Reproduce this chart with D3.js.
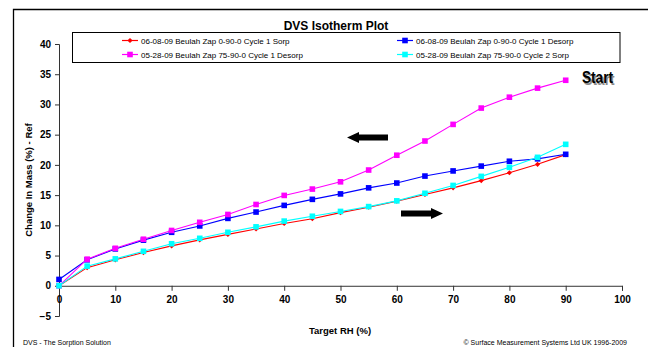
<!DOCTYPE html>
<html>
<head>
<meta charset="utf-8">
<script src="https://cdn.jsdelivr.net/npm/d3@7"></script>
<style>
  html, body { margin: 0; padding: 0; background: #fff; }
  svg { display: block; }
  text { font-family: "Liberation Sans", Arial, sans-serif; }
</style>
</head>
<body>
<svg id="chart" width="648" height="347"></svg>
<script>
// Target RH steps (%)
const rh = [0, 5, 10, 15, 20, 25, 30, 35, 40, 45, 50, 55, 60, 65, 70, 75, 80, 85, 90];

// Change in mass (%) for each run
const sorpCycle1 = [0, 3.0, 4.3, 5.5, 6.6, 7.6, 8.5, 9.4, 10.3, 11.1, 12.1, 13.0, 14.0, 15.1, 16.2, 17.4, 18.7, 20.1, 21.7];
const desorpCycle1 = [1.05, 4.3, 6.1, 7.55, 8.85, 9.9, 11.15, 12.2, 13.3, 14.3, 15.2, 16.2, 17.0, 18.15, 19.0, 19.8, 20.6, 21.0, 21.75];
const desorp7590Cycle1 = [0, 4.4, 6.2, 7.7, 9.15, 10.5, 11.8, 13.45, 14.95, 16.0, 17.2, 19.15, 21.6, 23.95, 26.7, 29.4, 31.2, 32.7, 34.0];
const sorp7590Cycle2 = [0, 3.25, 4.45, 5.7, 6.95, 7.85, 8.85, 9.75, 10.7, 11.5, 12.3, 13.1, 14.05, 15.3, 16.6, 18.1, 19.6, 21.25, 23.4];

const seriesNames = [
  "06-08-09 Beulah Zap 0-90-0 Cycle 1 Sorp",
  "06-08-09 Beulah Zap 0-90-0 Cycle 1 Desorp",
  "05-28-09 Beulah Zap 75-90-0 Cycle 1 Desorp",
  "05-28-09 Beulah Zap 75-90-0 Cycle 2 Sorp"
];
const seriesValues = [sorpCycle1, desorpCycle1, desorp7590Cycle1, sorp7590Cycle2];
const seriesColors = ["#ff0000", "#0000ff", "#ff00ff", "#00ffff"];
const seriesMarkers = ["diamond", "square", "square", "square"];

const xTicks = [0, 10, 20, 30, 40, 50, 60, 70, 80, 90, 100];
const yTicks = [-5, 0, 5, 10, 15, 20, 25, 30, 35, 40];

const svg = d3.select("#chart");

// outer frame
svg.append("path")
  .attr("d", "M13.5,352 L13.5,9.5 L652,9.5")
  .attr("fill", "none").attr("stroke", "#000").attr("stroke-width", 1.3);

const x = d3.scaleLinear().domain([0, 100]).range([59, 622]);
const y = d3.scaleLinear().domain([-5, 40]).range([316, 44]);

// title
svg.append("text")
  .attr("x", 336).attr("y", 30)
  .attr("text-anchor", "middle")
  .attr("font-size", 12).attr("font-weight", "bold")
  .text("DVS Isotherm Plot");

// axes
const yAxis = d3.axisLeft(y).tickValues(yTicks).tickSize(4).tickPadding(4);
const gy = svg.append("g").attr("transform", `translate(${x(0)},0)`).call(yAxis);

const xAxis = d3.axisBottom(x).tickValues(xTicks).tickSize(5).tickPadding(5);
const gx = svg.append("g").attr("transform", `translate(0,${y(0)})`).call(xAxis);

[gx, gy].forEach(g => {
  g.select(".domain").attr("stroke", "#333").attr("stroke-width", 1);
  g.selectAll(".tick line").attr("stroke", "#333");
  g.selectAll(".tick text")
    .attr("font-family", "'Liberation Sans', Arial, sans-serif")
    .attr("font-size", 10).attr("font-weight", "bold").attr("fill", "#000");
});

// axis titles
svg.append("text")
  .attr("x", 340).attr("y", 334)
  .attr("text-anchor", "middle")
  .attr("font-size", 9.5).attr("font-weight", "bold")
  .text("Target RH (%)");

svg.append("text")
  .attr("transform", "translate(32,180) rotate(-90)")
  .attr("text-anchor", "middle")
  .attr("font-size", 9.5).attr("font-weight", "bold")
  .text("Change In Mass (%) - Ref");

// marker drawing helper
function drawMarker(g, type, cx, cy, color) {
  if (type === "diamond") {
    const s = 2.6;
    g.append("path")
      .attr("d", `M${cx},${cy - s} L${cx + s},${cy} L${cx},${cy + s} L${cx - s},${cy} Z`)
      .attr("fill", color);
  } else {
    const s = 2.8;
    g.append("rect")
      .attr("x", cx - s).attr("y", cy - s)
      .attr("width", 2 * s).attr("height", 2 * s)
      .attr("fill", color);
  }
}

// series lines and markers
const line = d3.line().x(d => x(d[0])).y(d => y(d[1]));
seriesValues.forEach((vals, i) => {
  const pts = rh.map((r, j) => [r, vals[j]]);
  const g = svg.append("g");
  g.append("path")
    .attr("d", line(pts))
    .attr("fill", "none")
    .attr("stroke", seriesColors[i])
    .attr("stroke-width", 1.1);
  pts.forEach(p => drawMarker(g, seriesMarkers[i], x(p[0]), y(p[1]), seriesColors[i]));
});

// legend
const legend = svg.append("g");
legend.append("rect")
  .attr("x", 72.5).attr("y", 32.5).attr("width", 547.5).attr("height", 30)
  .attr("fill", "#fff").attr("stroke", "#000").attr("stroke-width", 1);
const legendPos = [[122, 40.5], [397, 40.5], [122, 54.5], [397, 54.5]];
seriesNames.forEach((name, i) => {
  const [lx, ly] = legendPos[i];
  legend.append("line")
    .attr("x1", lx).attr("x2", lx + 16).attr("y1", ly).attr("y2", ly)
    .attr("stroke", seriesColors[i]).attr("stroke-width", 1.2);
  drawMarker(legend, seriesMarkers[i], lx + 8, ly, seriesColors[i]);
  legend.append("text")
    .attr("x", lx + 19).attr("y", ly + 3)
    .attr("font-size", 8)
    .text(name);
});

// direction arrows
function blockArrow(xTail, xTip, cy) {
  const dir = Math.sign(xTip - xTail);
  const headLen = 12, bodyH = 3, headH = 5.5;
  const xb = xTip - dir * headLen;
  svg.append("path")
    .attr("d", `M${xTail},${cy - bodyH} L${xb},${cy - bodyH} L${xb},${cy - headH} L${xTip},${cy} L${xb},${cy + headH} L${xb},${cy + bodyH} L${xTail},${cy + bodyH} Z`)
    .attr("fill", "#000");
}
blockArrow(388, 347, 137.5);
blockArrow(401, 443, 213.5);

// "Start" label with a drop shadow, condensed heavy lettering
const startLabel = svg.append("g");
[[1.5, "#8a8a8a"], [0, "#000"]].forEach(([off, col]) => {
  startLabel.append("text")
    .attr("x", 582 + off).attr("y", 83 + off)
    .attr("font-family", "'DejaVu Sans', sans-serif")
    .attr("font-size", 17).attr("font-weight", "bold")
    .attr("textLength", 31).attr("lengthAdjust", "spacingAndGlyphs")
    .attr("fill", col)
    .text("Start");
});

// footer
svg.append("text")
  .attr("x", 23).attr("y", 345)
  .attr("font-size", 7)
  .text("DVS - The Sorption Solution");
svg.append("text")
  .attr("x", 627).attr("y", 345)
  .attr("text-anchor", "end")
  .attr("font-size", 7)
  .text("© Surface Measurement Systems Ltd UK 1996-2009");
</script>
</body>
</html>
